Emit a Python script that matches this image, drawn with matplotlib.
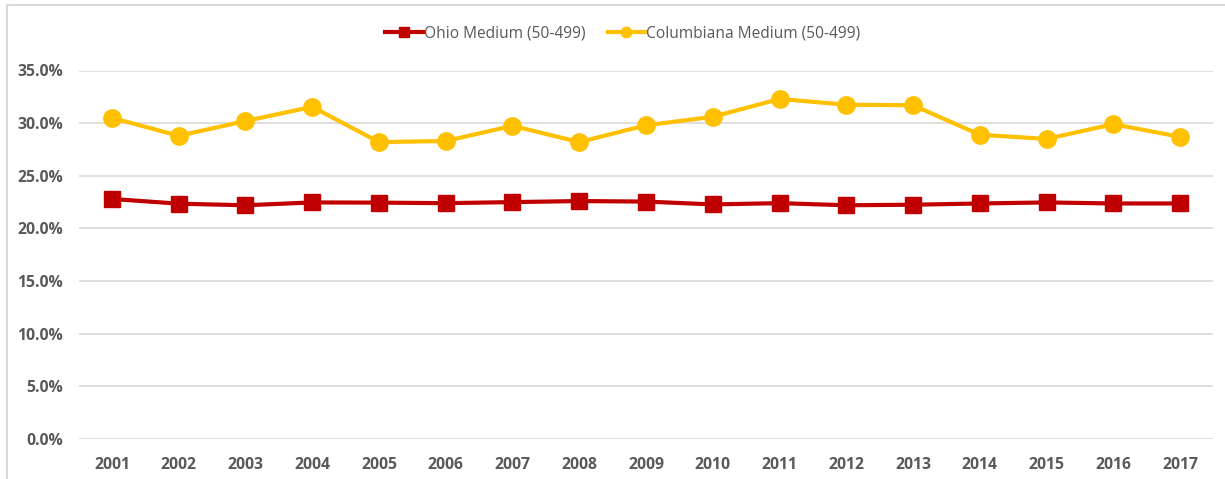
import matplotlib
matplotlib.use("Agg")
import matplotlib.pyplot as plt
from matplotlib.patches import Rectangle
from matplotlib.ticker import FuncFormatter

years = ["2001", "2002", "2003", "2004", "2005", "2006", "2007", "2008", "2009",
         "2010", "2011", "2012", "2013", "2014", "2015", "2016", "2017"]
ohio = [22.8, 22.35, 22.2, 22.47, 22.45, 22.4, 22.5, 22.6, 22.55,
        22.28, 22.4, 22.2, 22.25, 22.37, 22.47, 22.37, 22.37]
columbiana = [30.5, 28.8, 30.2, 31.55, 28.2, 28.3, 29.75, 28.2, 29.8,
              30.6, 32.3, 31.75, 31.7, 28.9, 28.5, 29.9, 28.7]
yticks = [0, 5, 10, 15, 20, 25, 30, 35]

plt.rcParams['font.family'] = ['Open Sans', 'DejaVu Sans']
W, H = 1225, 479
fig = plt.figure(figsize=(W / 100, H / 100), dpi=100)

# chart frame
fig.patches.append(Rectangle((7 / W, -0.05), 1.1, (H - 5) / H + 0.05,
                             transform=fig.transFigure, fill=False,
                             edgecolor="#D9D9D9", linewidth=1.5))

left, right = 78.6, 1213.4
bottom = 439
ax = fig.add_axes([left / W, (H - bottom) / H, (right - left) / W, (bottom - 70.5) / H])

x = list(range(len(years)))
ax.plot(x, ohio, color="#C00000", linewidth=3, marker="s", markersize=11.5,
        label="Ohio Medium (50-499)", zorder=3)
ax.plot(x, columbiana, color="#FFC000", linewidth=3, marker="o", markersize=12.5,
        label="Columbiana Medium (50-499)", zorder=3)

ax.set_xlim(-0.5, len(years) - 0.5)
ax.set_ylim(0, 35)
ax.set_yticks(yticks)
ax.yaxis.set_major_formatter(FuncFormatter(lambda v, p: f"{v:.1f}%"))
ax.set_xticks(x)
ax.set_xticklabels(years)
ax.grid(axis="y", color="#D9D9D9", linewidth=1.2)
ax.set_axisbelow(True)
for s in ax.spines.values():
    s.set_visible(False)
ax.tick_params(length=0, labelsize=11.3, labelcolor="#595959")
ax.tick_params(axis="y", pad=11)
ax.tick_params(axis="x", pad=13)
for lbl in ax.get_xticklabels() + ax.get_yticklabels():
    lbl.set_fontweight("bold")

leg = fig.legend(loc="center", bbox_to_anchor=(623 / W, 1 - 33 / H), ncol=2, frameon=False,
                 fontsize=11.2, handlelength=2.4, columnspacing=1.4, handletextpad=0.1,
                 markerscale=0.6)
for t in leg.get_texts():
    t.set_color("#595959")

fig.savefig("out.png", dpi=100)
